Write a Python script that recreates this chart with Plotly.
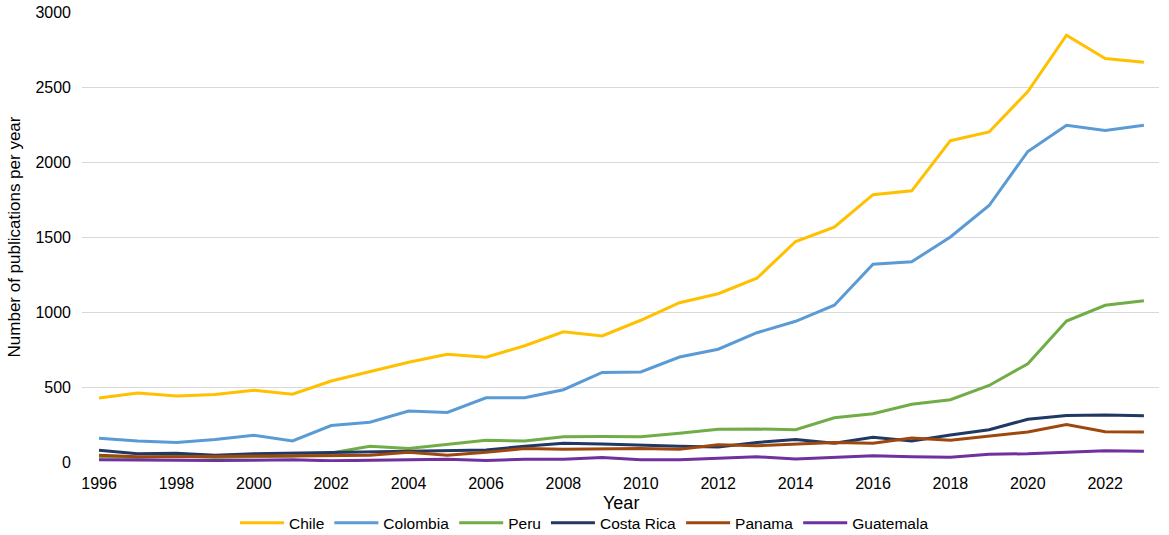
import plotly.graph_objects as go

years = list(range(1996, 2024))
chile = [427, 460, 440, 450, 478, 452, 540, 605, 665, 718, 698, 775, 868, 840,
         945, 1062, 1122, 1225, 1470, 1565, 1782, 1808, 2142, 2200, 2470, 2845, 2690, 2665]
colombia = [158, 140, 130, 150, 178, 140, 243, 265, 340, 330, 428, 428, 482, 597,
            600, 700, 752, 862, 938, 1045, 1318, 1335, 1500, 1710, 2070, 2245, 2210, 2245]
peru = [35, 30, 40, 30, 35, 40, 60, 105, 90, 120, 145, 140, 168, 170,
        168, 192, 218, 220, 215, 295, 322, 385, 415, 510, 655, 940, 1045, 1075]
costa_rica = [78, 55, 58, 45, 55, 60, 65, 70, 75, 75, 80, 105, 125, 120,
              110, 105, 100, 130, 150, 125, 165, 140, 180, 215, 285, 310, 313, 308]
panama = [45, 35, 35, 40, 40, 40, 42, 45, 65, 45, 65, 90, 85, 90,
          90, 85, 115, 108, 120, 130, 125, 160, 145, 170, 200, 250, 202, 200]
guatemala = [15, 12, 8, 10, 12, 15, 8, 12, 12, 18, 10, 18, 18, 30,
             15, 15, 25, 35, 20, 32, 42, 35, 32, 52, 55, 65, 75, 72]

series = [
    ("Chile", chile, "#FFC000"),
    ("Colombia", colombia, "#5B9BD5"),
    ("Peru", peru, "#70AD47"),
    ("Costa Rica", costa_rica, "#203864"),
    ("Panama", panama, "#9E480E"),
    ("Guatemala", guatemala, "#7030A0"),
]

fig = go.Figure()
for name, vals, color in series:
    fig.add_trace(go.Scatter(x=years, y=vals, name=name, mode="lines",
                             line=dict(color=color, width=3)))

font_family = "Liberation Sans, Arial, sans-serif"
fig.update_layout(
    width=1169, height=535, autosize=False,
    margin=dict(l=82, r=10, t=12, b=73, autoexpand=False),
    plot_bgcolor="white", paper_bgcolor="white",
    font=dict(family=font_family, size=16, color="#000000"),
    showlegend=True,
    legend=dict(orientation="h", xref="container", x=0.5, xanchor="center",
                yref="container", y=0.022, yanchor="middle",
                font=dict(size=15.5), itemwidth=44, tracegroupgap=0,
                bgcolor="rgba(0,0,0,0)"),
    xaxis=dict(range=[1995.56, 2023.39], tickmode="array",
               tickvals=list(range(1996, 2024, 2)),
               ticktext=[str(y) for y in range(1996, 2024, 2)],
               showgrid=False, zeroline=False, showline=False,
               ticks="", tickfont=dict(size=16), ticklabelstandoff=10),
    yaxis=dict(range=[0, 3000], tickmode="array",
               tickvals=[0, 500, 1000, 1500, 2000, 2500, 3000],
               showgrid=True, gridcolor="#D9D9D9", gridwidth=1.3,
               zeroline=False, showline=False, ticks="",
               ticklabelstandoff=10, tickfont=dict(size=16),
               title=dict(text="Number of publications per year", font=dict(size=17), standoff=10)),
    annotations=[dict(text="Year", xref="paper", yref="paper", x=0.5, y=-0.0911,
                      xanchor="center", yanchor="middle", showarrow=False,
                      font=dict(size=18))],
)
fig.write_html("out.html", config={"displayModeBar": False},
               post_script="document.body.style.margin='0';document.body.style.overflow='hidden';")
